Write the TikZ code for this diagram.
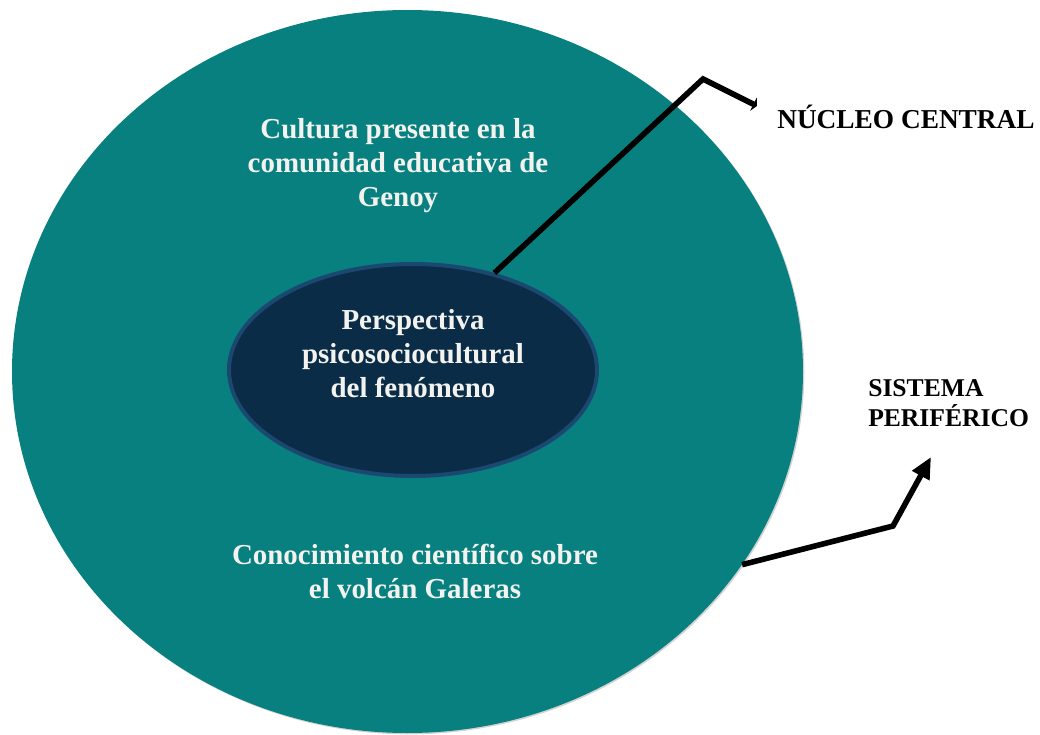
\documentclass[tikz,border=0pt]{standalone}
\usepackage{fontspec}
\setmainfont{Liberation Serif}
\usetikzlibrary{shapes.geometric,arrows.meta,shadows}
\definecolor{tealfill}{RGB}{8,128,128}
\definecolor{navyfill}{RGB}{10,44,70}
\definecolor{navyring}{RGB}{26,72,112}
\definecolor{lighttext}{RGB}{242,242,238}
\begin{document}
\begin{tikzpicture}[x=0.75pt,y=-0.75pt,
  bodytext/.style={font=\bfseries\fontsize{21.7}{25.5}\selectfont, text=lighttext, align=center, inner sep=0pt},
  labeltext/.style={font=\bfseries\fontsize{20.5}{23}\selectfont, text=black, align=left, inner sep=0pt, anchor=west},
  pointer/.style={line width=4.2pt, black, line join=miter}
]
\useasboundingbox (0,0) rectangle (1040,735);
\node[ellipse, fill=tealfill, minimum width=593.25pt, minimum height=542.25pt, inner sep=0pt,
  drop shadow={opacity=0.35, shadow xshift=1pt, shadow yshift=-1pt}] (outer) at (407.5,371.5) {};
\node[ellipse, fill=navyfill, draw=navyring, line width=3pt, minimum width=276pt, minimum height=159pt, inner sep=0pt] (inner) at (413,370) {};
\node[bodytext] (cultura) at (398,166) {Cultura presente en la\\comunidad educativa de\\Genoy};
\node[bodytext] (persp) at (413,354) {Perspectiva\\psicosociocultural\\del fenómeno};
\node[bodytext] (conoc) at (415,571) {Conocimiento científico sobre\\el volcán Galeras};
\node[labeltext] (nucleo) at (777,117) {NÚCLEO CENTRAL};
\node[labeltext, font=\bfseries\fontsize{19.2}{23}\selectfont] (sistema) at (868,403) {SISTEMA\\PERIFÉRICO};
\coordinate (nbend) at (703,79);
\coordinate (nend) at (757,106);
\coordinate (sbend) at (893,526);
\coordinate (send) at (931,457);
\draw[pointer, -{Triangle[length=3pt,width=11pt]}] (inner.50) -- (nbend) -- (nend);
\draw[pointer, -{Triangle[length=16pt,width=14pt]}] (outer.-30) -- (sbend) -- (send);
\end{tikzpicture}
\end{document}
